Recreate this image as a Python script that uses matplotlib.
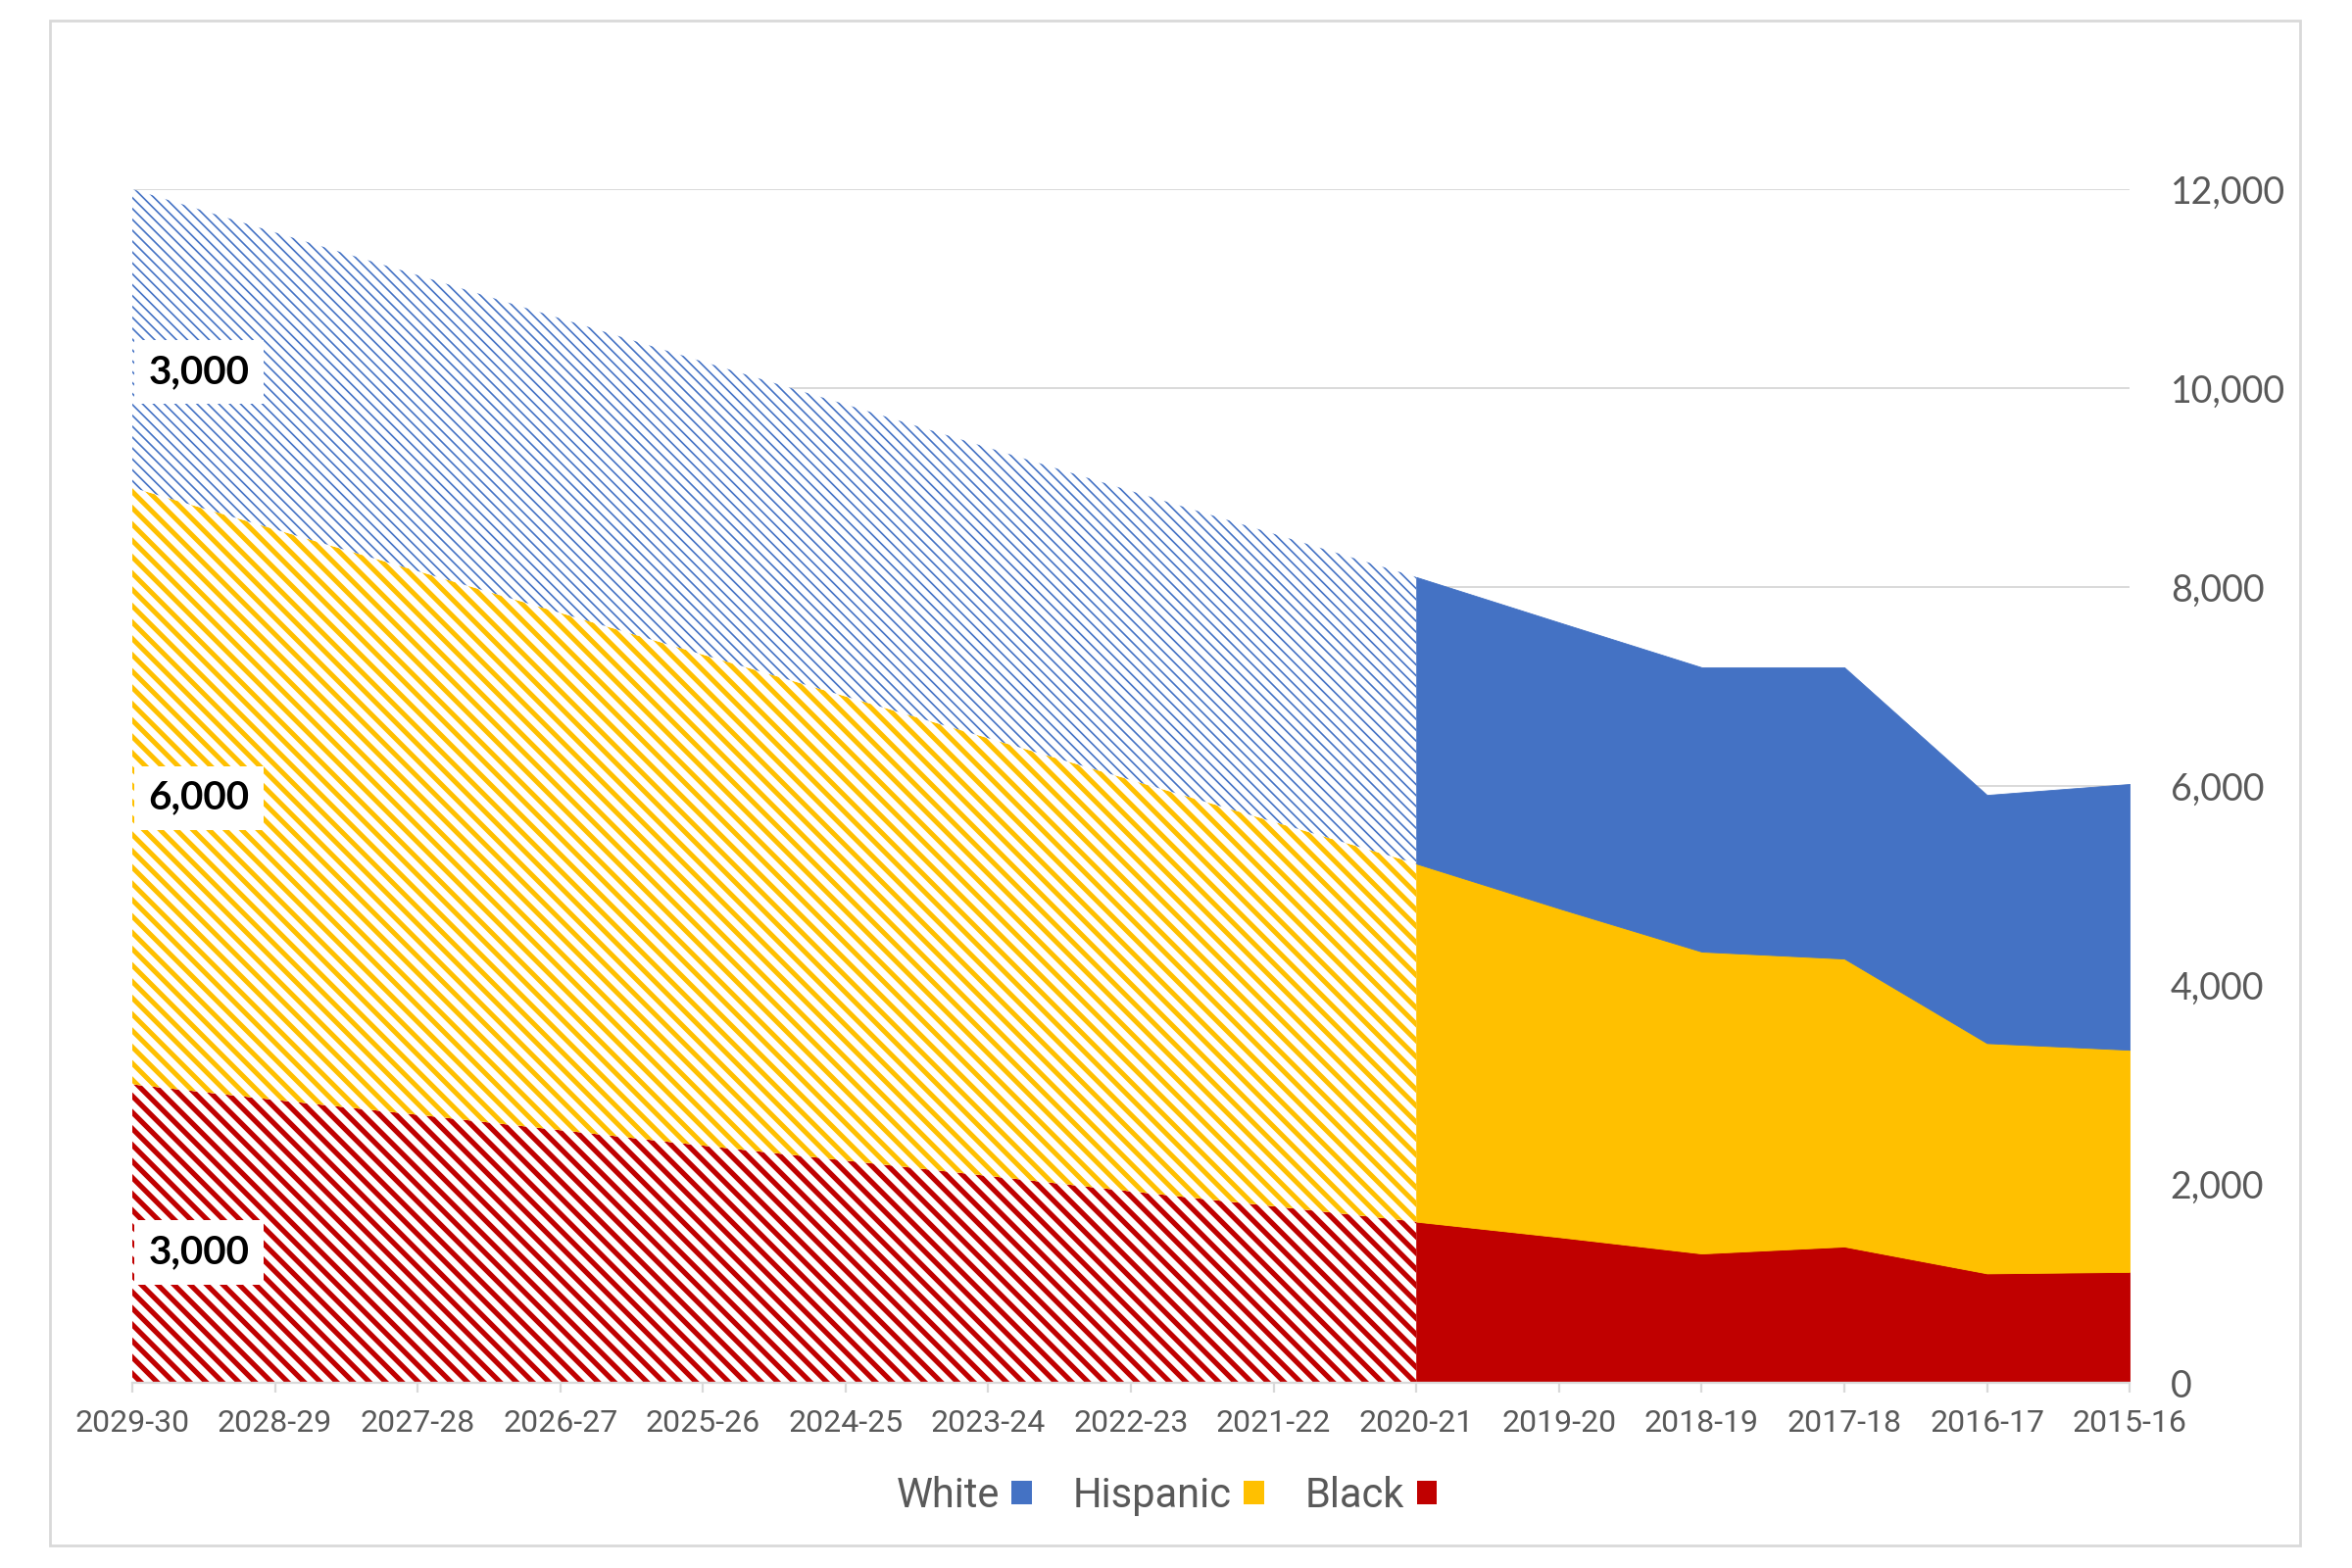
import numpy as np
import matplotlib
matplotlib.use('Agg')
import matplotlib.pyplot as plt
from matplotlib.patches import Patch, Rectangle

# ---- data ----
years = ['2015-16', '2016-17', '2017-18', '2018-19', '2019-20', '2020-21', '2021-22',
         '2022-23', '2023-24', '2024-25', '2025-26', '2026-27', '2027-28', '2028-29', '2029-30']
# actual 2015-16 .. 2020-21
black_act = [1115, 1100, 1370, 1300, 1465, 1620]
hisp_act = [2233, 2315, 2895, 3035, 3305, 3600]
white_act = [2672, 2495, 2928, 2858, 2875, 2880]
# projection 2020-21 .. 2029-30
black_proj = [1620, 1775, 1925, 2080, 2235, 2385, 2540, 2695, 2845, 3000]
hisp_proj = [3600, 3865, 4135, 4400, 4665, 4935, 5200, 5465, 5735, 6000]
white_proj = [2880, 2895, 2905, 2920, 2935, 2945, 2960, 2975, 2985, 3000]
# end-point data labels (value, y position of label)
lbl_vals = ['3,000', '6,000', '3,000']
lbl_y = [10160, 5880, 1310]

names = ['Black', 'Hispanic', 'White']
cols = ['#C00000', '#FFC000', '#4472C4']
hatches = ['\\\\\\\\', '\\\\\\\\', '\\\\\\\\\\\\']
hatch_lw = [1.9, 1.8, 0.6]
GRAY = '#d9d9d9'; TXT = '#595959'
FAM = ['Roboto', 'DejaVu Sans']

x = np.arange(len(years))
xa = x[:len(black_act)]
xp = x[len(black_act) - 1:]

fig = plt.figure(figsize=(12, 8), dpi=200)
ax = fig.add_axes([0.05625, 0.1181, 0.8492, 0.7613])

# projected (hatched) stack
lo = np.zeros(len(xp))
for vals, c, h, hl in zip([black_proj, hisp_proj, white_proj], cols, hatches, hatch_lw):
    hi = lo + np.array(vals)
    with plt.rc_context({'hatch.linewidth': hl}):
        pc = ax.fill_between(xp, lo, hi, facecolor='white', edgecolor=c, hatch=h, linewidth=0, zorder=2)
    if hasattr(pc, 'set_hatch_linewidth'):
        pc.set_hatch_linewidth(hl)
    lo = hi

# actual (solid) stack
lo = np.zeros(len(xa))
for vals, c in zip([black_act, hisp_act, white_act], cols):
    hi = lo + np.array(vals)
    ax.fill_between(xa, lo, hi, facecolor=c, edgecolor=c, linewidth=0.3, zorder=3)
    lo = hi

# data labels at 2029-30
for t, yv in zip(lbl_vals, lbl_y):
    ax.annotate(t, xy=(x[-1], yv), xytext=(24.5, 0), textcoords='offset points',
                ha='center', va='center', fontsize=14.5, fontweight='bold', family=['Lato', 'DejaVu Sans'],
                color='black', zorder=5,
                bbox=dict(boxstyle='square,pad=0.35', facecolor='white', edgecolor='none'))

ax.set_xlim(x[-1], x[0])
ax.set_ylim(0, 12000)
ax.set_yticks(np.arange(0, 12001, 2000))
ax.set_yticklabels([f'{v:,}' for v in range(0, 12001, 2000)], family=['Lato', 'DejaVu Sans'],
                   fontsize=13.5, color=TXT)
ax.yaxis.tick_right()
ax.tick_params(axis='y', length=0, pad=15)
ax.set_xticks(x)
ax.set_xticklabels(years, family=FAM, fontsize=11.5, color=TXT)
ax.tick_params(axis='x', length=3.6, width=0.8, color=GRAY, pad=6)
ax.grid(axis='y', color=GRAY, lw=0.7, zorder=0)
ax.set_axisbelow(True)
for s in ['top', 'left', 'right']:
    ax.spines[s].set_visible(False)
ax.spines['bottom'].set_color(GRAY)
ax.spines['bottom'].set_linewidth(0.8)
ax.spines['bottom'].set_zorder(4)

handles = [Patch(facecolor=c, edgecolor='none', label=n) for n, c in zip(names, cols)][::-1]
fig.legend(handles=handles, loc='center', bbox_to_anchor=(0.496, 0.046), ncol=3, frameon=False,
           markerfirst=False, handlelength=0.5, handleheight=0.5, handletextpad=0.3,
           columnspacing=1.0, prop={'family': FAM, 'size': 15}, labelcolor=TXT)

fig.patches.append(Rectangle((0.02125, 0.0144), 0.9567, 0.9725, transform=fig.transFigure,
                             fill=False, edgecolor=GRAY, lw=1.0))

fig.savefig('out.png', dpi=200, facecolor='white')
